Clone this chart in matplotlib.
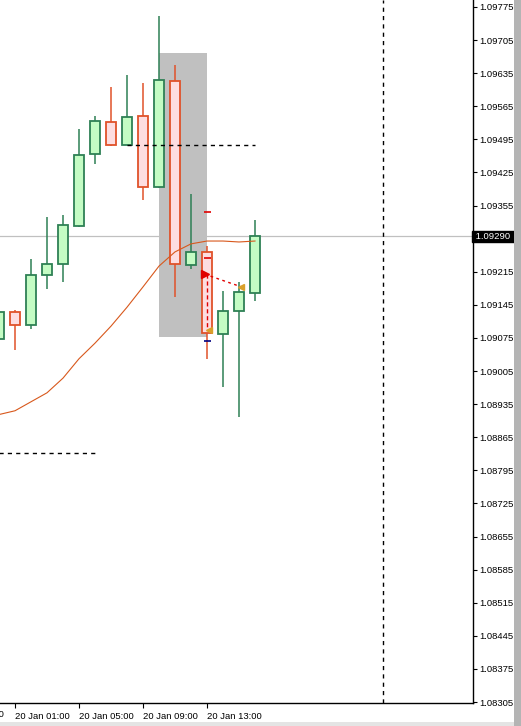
import matplotlib
matplotlib.use("Agg")
import matplotlib.pyplot as plt
from matplotlib.patches import Rectangle

plt.rcParams["font.family"] = ["Liberation Sans", "DejaVu Sans"]

# ===== 数据：20 Jan 00:00 起的小时数 =====
hours = [0, 1, 2, 3, 4, 5, 6, 7, 8, 9, 10, 11, 12, 13, 14, 15, 16]
opens = [1.09073, 1.09130, 1.09102, 1.09208, 1.09231, 1.09312, 1.09464, 1.09532, 1.09483,
         1.09544, 1.09394, 1.09619, 1.09229, 1.09257, 1.09083, 1.09132, 1.09170]
highs = [1.09136, 1.09134, 1.09242, 1.09331, 1.09335, 1.09517, 1.09544, 1.09606, 1.09631,
         1.09614, 1.09756, 1.09652, 1.09380, 1.09270, 1.09174, 1.09193, 1.09325]
lows = [1.09054, 1.09050, 1.09094, 1.09179, 1.09193, 1.09310, 1.09443, 1.09482, 1.09483,
        1.09367, 1.09392, 1.09162, 1.09221, 1.09031, 1.08971, 1.08908, 1.09153]
closes = [1.09130, 1.09102, 1.09208, 1.09231, 1.09314, 1.09462, 1.09534, 1.09483, 1.09542,
          1.09394, 1.09621, 1.09231, 1.09257, 1.09086, 1.09132, 1.09172, 1.09290]

# 均线
ma_hours = [-1, 0, 1, 2, 3, 4, 5, 6, 7, 8, 9, 10, 11, 12, 13, 14, 15, 16]
ma_values = [1.08908, 1.08913, 1.08921, 1.08940, 1.08959, 1.08990, 1.09031, 1.09064, 1.09100,
             1.09140, 1.09183, 1.09227, 1.09257, 1.09274, 1.09280, 1.09280, 1.09278, 1.09280]

# 标注
zone_hours = [10, 13]
zone_prices = [1.09077, 1.09678]
level_upper = 1.09483      # 上方虚线
level_lower = 1.08832      # 下方虚线
day_break = 24
last_price = 1.09290
order_hour = 13
order_marks = {"#e00000": [1.09341, 1.09244], "#000080": [1.09069]}
entry = (12.85, 1.09210)
exits = [(13.15, 1.09092), (15.15, 1.09183)]

xtick_hours = [1, 5, 9, 13]
xtick_labels = ["20 Jan 01:00", "20 Jan 05:00", "20 Jan 09:00", "20 Jan 13:00"]
ytick_values = [round(1.08305 + 0.0007 * i, 5) for i in range(22)]

# ===== 颜色 =====
BULL_FILL, BULL_EDGE = "#c4fcc4", "#2e8055"
BEAR_FILL, BEAR_EDGE = "#fddde0", "#e0522a"
MA_COLOR = "#d8581c"
GOLD = "#d9a02a"
FS = 6.8

W, H = 521, 726
fig = plt.figure(figsize=(W / 100, H / 100), dpi=100)
ax = fig.add_axes([0, 23 / H, 473 / W, 1 - 23 / H])
ax.set_xlim(0.0625, 29.625)
ax.set_ylim(1.083029, 1.097898)

# 灰色区域
ax.add_patch(Rectangle((zone_hours[0], zone_prices[0]), zone_hours[1] - zone_hours[0],
                       zone_prices[1] - zone_prices[0], facecolor="#c0c0c0",
                       edgecolor="none", zorder=1))

# 当前价线、虚线
ax.axhline(last_price, color="#c0c0c0", lw=0.9, zorder=1.5)
ax.hlines(level_upper, 8, 16, colors="black", linestyles=(0, (3, 3)), lw=1, zorder=4)
ax.hlines(level_lower, 0, 6, colors="black", linestyles=(0, (3, 3)), lw=1, zorder=4)
ax.axvline(day_break, color="black", ls=(0, (3, 3)), lw=1, zorder=4)

# K线
bw = 0.64
for h, o, hi, lo, c in zip(hours, opens, highs, lows, closes):
    bull = c >= o
    fill, edge = (BULL_FILL, BULL_EDGE) if bull else (BEAR_FILL, BEAR_EDGE)
    ax.vlines(h, lo, hi, colors=edge, lw=1.1, zorder=2)
    ax.add_patch(Rectangle((h - bw / 2, min(o, c)), bw, abs(c - o), facecolor=fill,
                           edgecolor=edge, lw=1.3, zorder=3))

# 均线
ax.plot(ma_hours, ma_values, color=MA_COLOR, lw=0.8, zorder=3.5)

# 订单标记
for col, prices in order_marks.items():
    for p in prices:
        ax.hlines(p, order_hour - 0.2, order_hour + 0.25, colors=col, lw=1.2, zorder=5)
ax.plot([entry[0], exits[1][0]], [entry[1], exits[1][1]], color="#e00000",
        ls=(0, (2, 2.5)), lw=1, zorder=5)
ax.plot([order_hour, order_hour], [entry[1], exits[0][1]], color="#e00000",
        ls=(0, (3, 2)), lw=1, zorder=5)
ax.plot(*entry, marker=">", color="#e00000", ms=6, zorder=6)
for x, y in exits:
    ax.plot(x, y, marker="<", color=GOLD, ms=5, zorder=6)

# 坐标轴
for s in ("top", "left"):
    ax.spines[s].set_visible(False)
for s in ("right", "bottom"):
    ax.spines[s].set_linewidth(1.0)
ax.yaxis.tick_right()
ax.set_yticks(ytick_values)
# 1.09285 被当前价标签遮住
ax.set_yticklabels(["" if abs(v - last_price) < 0.0002 else f"{v:.5f}" for v in ytick_values])
ax.tick_params(axis="y", length=3, width=0.8, pad=1.5, labelsize=FS)
ax.set_xticks(xtick_hours)
ax.set_xticklabels(xtick_labels, ha="left")
ax.tick_params(axis="x", length=3.5, width=0.8, pad=3, labelsize=FS)
ax.text(-3.1, -0.0165, "19 Jan 21:00", transform=ax.get_xaxis_transform(), ha="left",
        va="center", fontsize=FS, clip_on=False)

# 当前价标签
ax.text(1.0, last_price, " 1.09290 ", transform=ax.get_yaxis_transform(), ha="left",
        va="center", fontsize=FS, color="white", zorder=10, clip_on=False,
        bbox=dict(boxstyle="square,pad=0.12", facecolor="black", edgecolor="black"))

# 窗口边框
fig.patches.append(Rectangle((514 / W, 0), 7 / W, 1, transform=fig.transFigure,
                             facecolor="#b4b4b4", edgecolor="none"))
fig.patches.append(Rectangle((0, 0), 514 / W, 4 / H, transform=fig.transFigure,
                             facecolor="#e4e4e4", edgecolor="none"))

fig.savefig("out.png", dpi=100)
